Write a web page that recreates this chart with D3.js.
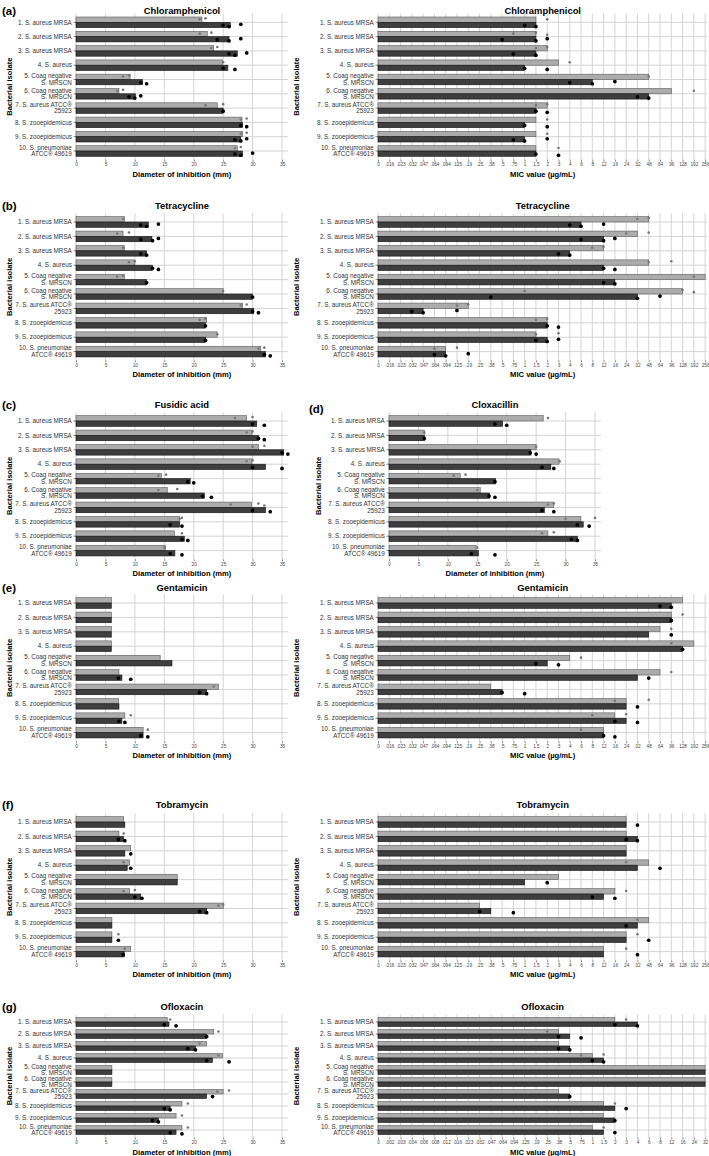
<!DOCTYPE html>
<html><head><meta charset="utf-8">
<script src="https://cdn.jsdelivr.net/npm/d3@7"></script>
<style>body{margin:0;background:#fff} svg{display:block} text{font-family:"Liberation Sans",Arial,sans-serif}</style>
</head><body><svg id="c" width="709" height="1156"></svg>
<script>
const isolates = ["1. S. aureus MRSA","2. S. aureus MRSA","3. S. aureus MRSA","4. S. aureus","5. Coag negative\nS. MRSCN","6. Coag negative\nS. MRSCN","7. S. aureus ATCC®\n25923","8. S. zooepidemicus","9. S. zooepidemicus","10. S. pneumoniae\nATCC® 49619"];
const discTicks = [0,5,10,15,20,25,30,35];
const micTicks = ["0",".016",".023",".032",".047",".064",".094",".125",".19",".25",".38",".5",".75","1","1.5","2","3","4","6","8","12","16","24","32","48","64","96","128","192","256"];
const oflTicks = ["0",".002",".003",".004",".006",".008",".012",".016",".023",".032",".047",".064",".094",".125",".19",".25",".38",".5",".75","1","1.5","2","3","4","6","8","12","16","24","32"];

// Chloramphenicol
const chlorDiscLight = [21.4,22.3,23.4,24.9,9.2,7.3,24,28.2,28.3,27.4];
const chlorDiscDark = [26.2,26,27.4,25.8,11.3,10.1,25,28.3,28,28.3];
const chlorDiscLightDots = [[21,22],[21,23],[23,24],[25],[8,9],[7,8],[22,25],[28,29],[28,29],[27,28]];
const chlorDiscDarkDots = [[25,26,28],[24,26,28],[26,27,29],[25,27],[11,12],[9,10,11],[25],[28,29],[27,28,29],[27,28,30]];
const chlorMicLight = [1.5,1.5,2,3,48,96,2,1.5,1.5,1.5];
const chlorMicDark = [1.5,1.5,1.5,1,8,48,1.5,1,1,1.5];
const chlorMicLightDots = [[2],[.75,1.5,2],[1.5,2],[4],[48],[192],[1.5,2],[2],[2],[3]];
const chlorMicDarkDots = [[1,1.5],[.5,1.5,2],[.75,1.5],[1,2],[4,8,16],[32,48],[1.5,2],[1,2],[.75,1,2],[1.5,3]];
// Tetracycline
const tetraDiscLight = [8.2,8,8.2,10,8.2,25,28.3,22.2,24,31.4];
const tetraDiscDark = [12.3,12.9,12,13,12,30,30.2,22,22,32.2];
const tetraDiscLightDots = [[8],[7,9],[8],[9,10],[7,8],[25],[28,29],[21,22],[24],[31,32]];
const tetraDiscDarkDots = [[11,12,14],[11,13,14],[11,12],[13,14],[12],[30],[30,31],[22],[22],[32,33]];
const tetraMicLight = [48,32,12,48,256,128,.19,2,1.5,.094];
const tetraMicDark = [6,12,4,12,16,32,.047,2,2,.094];
const tetraMicLightDots = [[32,48],[24,48],[8,12],[48,96],[192],[1,128,192],[.125,.19],[1.5,2],[1.5,3],[.064,.125]];
const tetraMicDarkDots = [[4,6,12],[6,12,16],[3,4],[12,16],[12,16],[.38,32,64],[.032,.047,.125],[2,3],[1.5,2,3],[.064,.094,.19]];
// Fusidic acid
const fusDiscLight = [29,29.9,31,29.9,14.5,15.5,29.8,17.6,16.7,15.2];
const fusDiscDark = [30.7,31,35.3,32.2,19.4,21.8,32.2,17.6,18.4,16.8];
const fusDiscLightDots = [[27,30],[29,30],[30,32],[29,30],[14,15.3],[14,17.2],[26.3,31,32],[17.6,18],[18],[15]];
const fusDiscDarkDots = [[30,32],[31,32],[35,36],[30,35],[19,20],[21.5,23],[30,33],[16,18],[18,19],[16,18]];
// Cloxacillin
const cloxDiscLight = [26.2,6,25,28.9,12.1,15.5,28,32.6,27,14.8];
const cloxDiscDark = [19.3,6,24.1,27.5,18.1,17.1,26.4,33,32,15.2];
const cloxDiscLightDots = [[27],[6],[25],[29],[11,13],[15],[27,28],[30,35],[26,28],[15]];
const cloxDiscDarkDots = [[18,20],[6],[24,25],[26,28],[18],[17,18],[26,28],[32,34],[31,32],[14,18]];
// Gentamicin
const gentDiscLight = [6,6,6,6,14.3,7.3,24.2,7.2,8.3,11.4];
const gentDiscDark = [6,6,6,6,16.3,7.8,22.2,7.3,7.8,11.4];
const gentDiscLightDots = [[],[],[],[],[],[],[23.4],[],[9.3],[12.2]];
const gentDiscDarkDots = [[],[],[],[],[],[7.2,9.3],[21,22.2],[],[7.3,8.3],[11,12.2]];
const gentMicLight = [128,96,64,192,4,64,.38,24,16,12];
const gentMicDark = [96,96,48,128,2,32,.5,24,24,12];
const gentMicLightDots = [[],[128],[96],[96],[6],[96],[],[16,48],[8,24],[6]];
const gentMicDarkDots = [[64,96],[96],[96],[128],[1.5,3],[48],[.5,1],[32],[16,32],[12,16]];
// Tobramycin
const tobraDiscLight = [8.1,7.3,9.3,9.1,17.2,9.1,25.1,6.1,6.1,9.3];
const tobraDiscDark = [8.3,8.1,8.3,8.7,17.2,11,22.2,6.1,6.1,8.2];
const tobraDiscLightDots = [[],[8.1],[],[8.1],[],[8.1,10],[24.2,25],[],[7.2],[8.3]];
const tobraDiscDarkDots = [[],[7.2,8.3],[9.3],[9.3],[],[10,11.2],[21,22.2],[],[7.2],[8]];
const tobraMicLight = [24,24,24,48,3,16,.25,48,24,12];
const tobraMicDark = [24,32,24,32,1,12,.38,32,24,12];
const tobraMicLightDots = [[],[],[],[24],[],[24],[],[32],[32],[24]];
const tobraMicDarkDots = [[32],[24,32],[],[64],[2],[8,16],[.25,.75],[24],[48],[32]];
// Ofloxacin
const oflDiscLight = [15.5,23.4,22.2,24.9,6.1,6.1,25,18,17,18];
const oflDiscDark = [15.8,22.2,20.3,23.2,6.1,6.1,22.2,16,14,17];
const oflDiscLightDots = [[16],[24.2],[21],[24.2],[],[],[24,26],[19],[18],[19]];
const oflDiscDarkDots = [[15,17],[22.2],[19,20.3],[22.2,26],[],[],[23.2],[15,16],[13,14],[16,18]];
const oflMicLight = [2,.38,.38,1,32,32,.38,1.5,1.5,1];
const oflMicDark = [4,.5,.5,1.5,32,32,.5,2,2,1.5];
const oflMicLightDots = [[3],[.25],[],[.75,1.5],[],[],[],[2],[],[1.5]];
const oflMicDarkDots = [[2,4],[.38,.75],[.38,.5],[1,1.5],[],[],[.5],[3],[2],[2]];

const svg = d3.select("#c");
const LIGHT = "#acacac", LIGHT_STROKE = "#5a5a5a", DARK = "#3e3e3e", DARK_STROKE = "#111";
const GRID = "#d4d4d4";

const rows = [
  {tag:"(a)", title:11, c1:22.3, step:14.3},
  {tag:"(b)", title:206, c1:222, step:14.4},
  {tag:"(c)", title:404.5, c1:421, step:14.4, tag2:"(d)"},
  {tag:"(e)", title:588, c1:603, step:14.4},
  {tag:"(f)", title:805, c1:822, step:14.4},
  {tag:"(g)", title:1007, c1:1022, step:12}
];

function drawPanel(row, p) {
  const g = svg.append("g");
  const yTop = row.c1 - row.step/2 - 1.5;
  const yBot = row.c1 + row.step*9 + row.step/2 + 1.5;
  const y = d3.scaleBand().domain(isolates).range([row.c1 - row.step/2, row.c1 + row.step*9.5]);
  let x, tickVals, tickFmt, x1;
  if (p.type === "disc") {
    x = d3.scaleLinear().domain([0,36]).range([p.x0, p.x0 + 36*5.886]);
    tickVals = discTicks; tickFmt = d => d; x1 = p.x0 + 36*5.886;
  } else {
    const dom = p.ticks.map(t => +t);
    x = d3.scaleLinear().domain(dom).range(dom.map((d,i) => p.x0 + i*11.28));
    tickVals = dom; tickFmt = (d,i) => p.ticks[i]; x1 = p.x0 + 29.2*11.28;
  }
  g.selectAll(".vg").data(tickVals).join("line")
    .attr("x1", d => x(d)).attr("x2", d => x(d)).attr("y1", yTop).attr("y2", yBot)
    .attr("stroke", GRID).attr("stroke-width", 1);
  g.selectAll(".hg").data(isolates).join("line")
    .attr("x1", p.x0).attr("x2", x1).attr("y1", d => y(d) + y.bandwidth()/2).attr("y2", d => y(d) + y.bandwidth()/2)
    .attr("stroke", GRID).attr("stroke-width", 1);
  const bh = row.step * 0.37;
  const cy = i => y(isolates[i]) + y.bandwidth()/2;
  g.selectAll(".bl").data(p.light).join("rect")
    .attr("x", p.x0).attr("y", (d,i) => cy(i) - bh).attr("width", d => x(d) - p.x0).attr("height", bh)
    .attr("fill", LIGHT).attr("stroke", LIGHT_STROKE).attr("stroke-width", 0.6);
  g.selectAll(".bd").data(p.dark).join("rect")
    .attr("x", p.x0).attr("y", (d,i) => cy(i)).attr("width", d => x(d) - p.x0).attr("height", bh)
    .attr("fill", DARK).attr("stroke", DARK_STROKE).attr("stroke-width", 0.6);
  const offL = [-0.3, -1.3, 0.8], offD = [0.4, 1.6, -0.6];
  const ld = [], dd = [];
  p.lightDots.forEach((arr,i) => arr.forEach((v,j) => ld.push({v, y: cy(i) - bh/2 + offL[j%3]})));
  p.darkDots.forEach((arr,i) => arr.forEach((v,j) => dd.push({v, y: cy(i) + bh/2 + offD[j%3]})));
  g.selectAll(".dl").data(ld).join("circle").attr("cx", d => x(d.v)).attr("cy", d => d.y).attr("r", 1.3).attr("fill", "#777");
  g.selectAll(".dd").data(dd).join("circle").attr("cx", d => x(d.v)).attr("cy", d => d.y).attr("r", 1.85).attr("fill", "#000");
  const xa = g.append("g").attr("transform", `translate(0,${yBot})`)
    .call(d3.axisBottom(x).tickValues(tickVals).tickFormat(tickFmt).tickSize(2).tickPadding(1.5));
  xa.select(".domain").remove();
  xa.selectAll("line").attr("stroke", "#333").attr("stroke-width", 0.6);
  xa.selectAll("text").attr("font-size", 4.7).attr("fill", "#444").attr("font-family", "Liberation Sans, Arial, sans-serif");
  const ya = g.append("g").attr("transform", `translate(${p.x0},0)`)
    .call(d3.axisLeft(y).tickSize(2.5).tickPadding(1.5).tickFormat(""));
  ya.select(".domain").remove();
  ya.selectAll("line").attr("stroke", "#333").attr("stroke-width", 0.6);
  ya.selectAll(".tick").each(function(d) {
    const lines = d.split("\n");
    const t = d3.select(this).append("text").attr("x", -4.2).attr("text-anchor", "end")
      .attr("font-size", 6.3).attr("fill", "#333");
    lines.forEach((ln,k) => {
      t.append("tspan").attr("x", -4.2)
        .attr("y", lines.length === 1 ? 2.2 : (k === 0 ? -1.2 : 5.2)).text(ln);
    });
  });
  const cx = (p.x0 + x1) / 2;
  g.append("text").attr("x", cx).attr("y", row.title + 3.4).attr("text-anchor", "middle")
    .attr("font-weight", "bold").attr("font-size", 9.4).attr("fill", "#000").text(p.title);
  g.append("text").attr("x", cx).attr("y", yBot + 17).attr("text-anchor", "middle")
    .attr("font-weight", "bold").attr("font-size", 7.6).attr("fill", "#000")
    .text(p.type === "disc" ? "Diameter of inhibition (mm)" : "MIC value (µg/mL)");
  const ym = (yTop + yBot) / 2;
  g.append("text").attr("transform", `translate(${p.yTitleX},${ym}) rotate(-90)`).attr("text-anchor", "middle")
    .attr("font-weight", "bold").attr("font-size", 7.6).attr("fill", "#000").text("Bacterial isolate");
}

function tag(t, x, yy) {
  svg.append("text").attr("x", x).attr("y", yy + 4).attr("font-weight", "bold").attr("font-size", 11.5).text(t);
}

const L = {type:"disc", x0:76, yTitleX:12};
const R = {type:"mic", x0:378, yTitleX:299, ticks:micTicks};
const panels = [
  [ {...L, title:"Chloramphenicol", light:chlorDiscLight, dark:chlorDiscDark, lightDots:chlorDiscLightDots, darkDots:chlorDiscDarkDots},
    {...R, title:"Chloramphenicol", light:chlorMicLight, dark:chlorMicDark, lightDots:chlorMicLightDots, darkDots:chlorMicDarkDots} ],
  [ {...L, title:"Tetracycline", light:tetraDiscLight, dark:tetraDiscDark, lightDots:tetraDiscLightDots, darkDots:tetraDiscDarkDots},
    {...R, title:"Tetracycline", light:tetraMicLight, dark:tetraMicDark, lightDots:tetraMicLightDots, darkDots:tetraMicDarkDots} ],
  [ {...L, title:"Fusidic acid", light:fusDiscLight, dark:fusDiscDark, lightDots:fusDiscLightDots, darkDots:fusDiscDarkDots},
    {type:"disc", x0:389, yTitleX:321, title:"Cloxacillin", light:cloxDiscLight, dark:cloxDiscDark, lightDots:cloxDiscLightDots, darkDots:cloxDiscDarkDots} ],
  [ {...L, title:"Gentamicin", light:gentDiscLight, dark:gentDiscDark, lightDots:gentDiscLightDots, darkDots:gentDiscDarkDots},
    {...R, title:"Gentamicin", light:gentMicLight, dark:gentMicDark, lightDots:gentMicLightDots, darkDots:gentMicDarkDots} ],
  [ {...L, title:"Tobramycin", light:tobraDiscLight, dark:tobraDiscDark, lightDots:tobraDiscLightDots, darkDots:tobraDiscDarkDots},
    {...R, title:"Tobramycin", light:tobraMicLight, dark:tobraMicDark, lightDots:tobraMicLightDots, darkDots:tobraMicDarkDots} ],
  [ {...L, title:"Ofloxacin", light:oflDiscLight, dark:oflDiscDark, lightDots:oflDiscLightDots, darkDots:oflDiscDarkDots},
    {...R, ticks:oflTicks, title:"Ofloxacin", light:oflMicLight, dark:oflMicDark, lightDots:oflMicLightDots, darkDots:oflMicDarkDots} ]
];
rows.forEach((row, r) => {
  panels[r].forEach(p => drawPanel(row, p));
  tag(row.tag, 2, row.title);
  if (row.tag2) tag(row.tag2, 309, row.title + 4);
});
</script></body></html>
